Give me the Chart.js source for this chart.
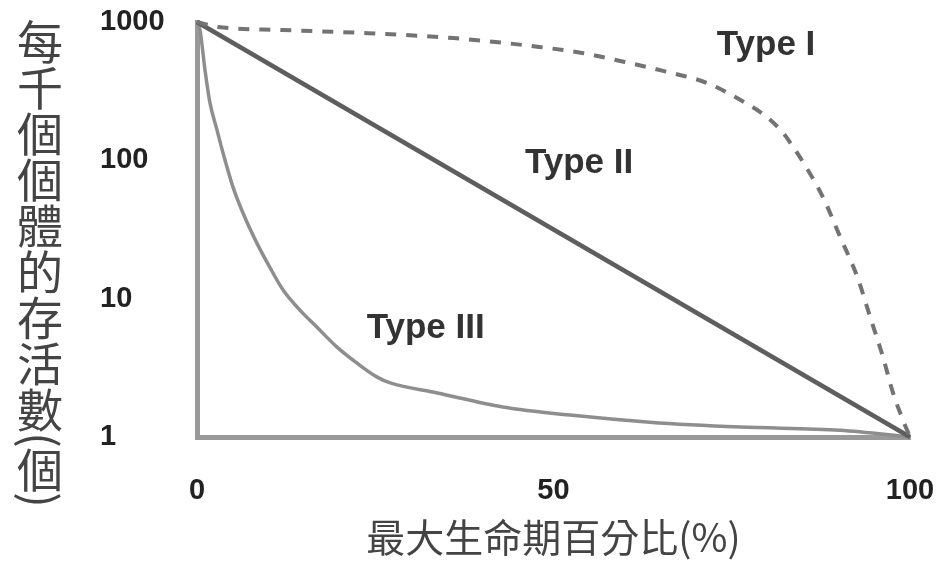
<!DOCTYPE html>
<html>
<head>
<meta charset="utf-8">
<script src="https://cdn.jsdelivr.net/npm/chart.js@4/dist/chart.umd.min.js"></script>
<style>
  html, body { margin: 0; padding: 0; background: #ffffff; }
</style>
</head>
<body>
<canvas id="c" width="950" height="576"></canvas>
<script>
// ---- data ----
const xTickValues = [0, 50, 100];
const yTickValues = [1, 10, 100, 1000];

const typeIAge = [0, 3, 12, 24, 36, 48, 54, 60, 66, 71.5, 77, 79.9, 82.2, 83.6, 85, 87.8, 90.2, 92.6, 94.4, 96.2, 97.6, 99, 100];
const typeISurvivors = [1000, 920, 875, 830, 765, 660, 597, 514, 435, 363, 259, 206, 158, 125, 97, 54, 28, 14.4, 7.4, 3.8, 2.1, 1.33, 1];

const typeIIAge = [0, 100];
const typeIISurvivors = [1000, 1];

const typeIIIAge = [0, 0.42, 1.12, 1.82, 2.8, 3.65, 5.05, 6.45, 8.4, 10.2, 12.1, 14.4, 16.8, 19.6, 22.4, 25.2, 27.1, 33.7, 42.9, 52.3, 63.5, 76.2, 90.2, 100];
const typeIIISurvivors = [1000, 875, 450, 260, 166, 113, 64, 41.6, 25.2, 16.9, 11.5, 8.3, 6.24, 4.48, 3.43, 2.72, 2.46, 2.08, 1.65, 1.44, 1.28, 1.18, 1.12, 1];

const curveNames = ["Type I", "Type II", "Type III"];
const nameAge = [72.9, 46.0, 23.8];
const nameSurvivors = [577, 81, 5.2];

const xTitle = "最大生命期百分比(%)";
const yTitle = "每千個個體的存活數(個)";

function pts(xs, ys) { return xs.map((x, i) => ({ x: x, y: ys[i] })); }

const curveLabels = {
  id: 'curveLabels',
  afterDatasetsDraw(chart) {
    const { ctx, scales } = chart;
    ctx.save();
    ctx.font = 'bold 35px "Liberation Sans", Arial, sans-serif';
    ctx.fillStyle = '#333';
    ctx.textAlign = 'left';
    ctx.textBaseline = 'alphabetic';
    curveNames.forEach((t, i) => {
      ctx.fillText(t, scales.x.getPixelForValue(nameAge[i]), scales.y.getPixelForValue(nameSurvivors[i]));
    });
    ctx.restore();
  }
};

// vertical (stacked) y-axis title, drawn beside the y scale
const stackedYTitle = {
  id: 'stackedYTitle',
  afterDraw(chart) {
    const { ctx } = chart;
    const size = 46, cx = 40;
    let y = chart.chartArea.top - 3;
    ctx.save();
    ctx.font = size + 'px "Noto Sans CJK TC", "Noto Sans CJK SC", sans-serif';
    ctx.fillStyle = '#444';
    ctx.textAlign = 'center';
    ctx.textBaseline = 'middle';
    for (const ch of yTitle) {
      if (ch === '(' || ch === ')') {
        const adv = 14;
        ctx.save();
        ctx.translate(cx, y + adv / 2);
        ctx.rotate(Math.PI / 2);
        ctx.fillText(ch, 0, 0);
        ctx.restore();
        y += adv;
      } else {
        ctx.fillText(ch, cx, y + size / 2);
        y += size;
      }
    }
    ctx.restore();
  }
};

const tickFont = { family: '"Liberation Sans", Arial, sans-serif', size: 29, weight: 'bold' };

new Chart(document.getElementById('c'), {
  type: 'line',
  data: {
    datasets: [
      { label: curveNames[0], data: pts(typeIAge, typeISurvivors), borderColor: '#737373', borderWidth: 4,
        borderDash: [11, 10], pointRadius: 0, cubicInterpolationMode: 'monotone', clip: 8 },
      { label: curveNames[1], data: pts(typeIIAge, typeIISurvivors), borderColor: '#5e5e5e', borderWidth: 4.5,
        pointRadius: 0, clip: 8 },
      { label: curveNames[2], data: pts(typeIIIAge, typeIIISurvivors), borderColor: '#8e8e8e', borderWidth: 3.5,
        pointRadius: 0, cubicInterpolationMode: 'monotone', clip: 8 }
    ]
  },
  options: {
    responsive: false,
    devicePixelRatio: 1,
    animation: false,
    layout: { padding: { left: 100, right: 40, top: 22, bottom: 0 } },
    plugins: { legend: { display: false }, tooltip: { enabled: false } },
    scales: {
      x: {
        type: 'linear', min: 0, max: 100,
        afterBuildTicks: (s) => { s.ticks = xTickValues.map(v => ({ value: v })); },
        afterFit: (s) => { s.height = 139; s.paddingLeft = 0; s.paddingRight = 0; },
        grid: { display: false },
        border: { display: true, color: '#999', width: 5 },
        ticks: { color: '#222', font: tickFont, padding: 29, maxRotation: 0,
                 callback: (v) => String(v) },
        title: { display: true, text: xTitle, color: '#444',
                 font: { family: '"Noto Sans CJK TC", "Noto Sans CJK SC", sans-serif', size: 39, weight: 'normal' },
                 padding: { top: 0, bottom: 15 } }
      },
      y: {
        type: 'logarithmic', min: 1, max: 1000,
        afterBuildTicks: (s) => { s.ticks = yTickValues.map(v => ({ value: v })); },
        afterFit: (s) => { s.width = 97; s.paddingTop = 0; s.paddingBottom = 0; },
        grid: { display: false },
        border: { display: true, color: '#999', width: 5 },
        ticks: { color: '#222', font: tickFont, crossAlign: 'far', padding: 20,
                 callback: (v) => String(v) }
      }
    }
  },
  plugins: [curveLabels, stackedYTitle]
});
</script>
</body>
</html>
